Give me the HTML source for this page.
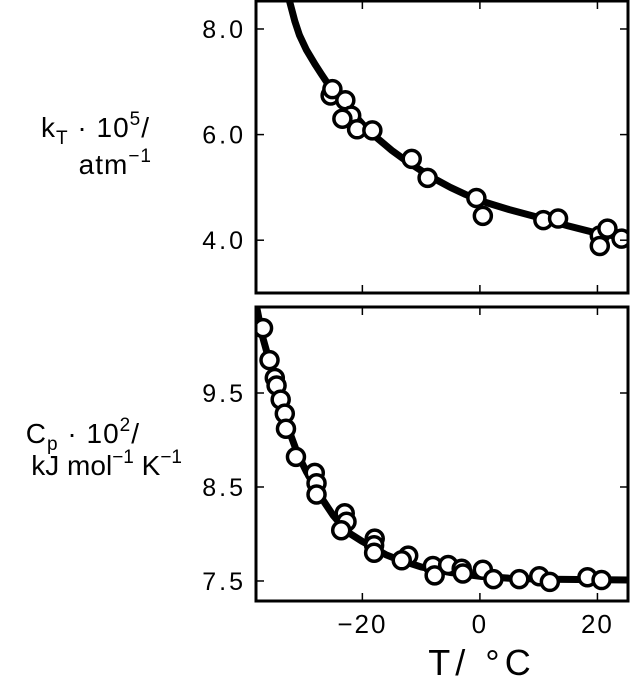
<!DOCTYPE html>
<html><head><meta charset="utf-8"><style>
html,body{margin:0;padding:0;background:#fff;width:630px;height:680px;overflow:hidden}
svg{display:block;font-family:"Liberation Sans",sans-serif}
</style></head><body>
<svg id="chart" width="630" height="680" viewBox="0 0 630 680">
<text x="150" y="137" font-size="28" letter-spacing="1" text-anchor="end">k<tspan font-size="19" dy="7">T</tspan><tspan dy="-7"> · 10</tspan><tspan font-size="19" dy="-12">5</tspan><tspan dy="12">/</tspan></text>
<text x="152" y="174" font-size="28" letter-spacing="1" text-anchor="end">atm<tspan font-size="19" dy="-12">−1</tspan></text>
<text x="140" y="443" font-size="28" letter-spacing="1" text-anchor="end">C<tspan font-size="19" dy="7">p</tspan><tspan dy="-7"> · 10</tspan><tspan font-size="19" dy="-12">2</tspan><tspan dy="12">/</tspan></text>
<text x="182" y="475" font-size="28" text-anchor="end">kJ mol<tspan font-size="19" dy="-12">−1</tspan><tspan dy="12"> K</tspan><tspan font-size="19" dy="-12">−1</tspan></text>
<text x="482" y="675" font-size="36" letter-spacing="5" text-anchor="middle">T/  °C</text>
<g id="g"></g>
</svg>
<script>
const xTicks=[-20,0,20];
const topTicks=[8.0,6.0,4.0];
const botTicks=[9.5,8.5,7.5];
const topT=[-25.4,-25.1,-22.9,-21.9,-23.4,-20.9,-18.3,-11.6,-8.9,-0.6,0.5,10.8,13.3,20.4,21.7,20.4,24.1];
const topV=[6.74,6.86,6.65,6.36,6.30,6.10,6.08,5.54,5.18,4.80,4.46,4.38,4.41,4.09,4.22,3.89,4.03];
const topCurveT=[-32.4,-31.5,-30.7,-29.5,-28,-27,-25.5,-24,-22,-20,-18,-15,-12.5,-10,-7.5,-5,-2.5,0,5,10,15,20,25.2];
const topCurveV=[8.53,8.15,7.88,7.6,7.32,7.15,6.9,6.68,6.45,6.2,5.98,5.7,5.5,5.32,5.15,5.0,4.87,4.75,4.58,4.43,4.27,4.13,4.04];
const botT=[-36.9,-35.8,-34.9,-34.6,-33.9,-33.2,-33.0,-31.3,-28.1,-27.8,-27.8,-23.0,-22.7,-23.6,-17.9,-18.0,-18.0,-12.2,-13.3,-8.0,-7.7,-5.4,-3.1,-2.9,0.5,2.3,6.7,10.1,11.9,18.3,20.7];
const botV=[10.19,9.85,9.66,9.58,9.43,9.28,9.12,8.82,8.65,8.54,8.42,8.22,8.13,8.04,7.95,7.88,7.80,7.77,7.72,7.66,7.56,7.67,7.63,7.58,7.62,7.52,7.52,7.55,7.49,7.54,7.51];
const botCurveT=[-38.1,-37,-36,-35,-34,-33,-32,-31,-29.5,-28,-26.5,-25,-23.5,-22,-20,-18,-16,-14,-12,-10,-7.5,-5,-2.5,0,5,10,25.2];
const botCurveV=[10.45,10.1,9.88,9.7,9.45,9.2,9.02,8.85,8.66,8.5,8.34,8.2,8.09,8.0,7.92,7.85,7.78,7.73,7.69,7.65,7.62,7.59,7.57,7.55,7.53,7.52,7.51];

const NS="http://www.w3.org/2000/svg";
const g=document.getElementById('g');
const X0=256,X1=628;
const x=t=>X0+(t-(-38.1))/(25.2-(-38.1))*(X1-X0);
function mk(tag,attrs){const e=document.createElementNS(NS,tag);for(const k in attrs)e.setAttribute(k,attrs[k]);g.appendChild(e);return e;}
function panel(name,top,bot,vmin,vmax,ticks,ct,cv,pt,pv,withX){
  const y=v=>bot-(v-vmin)/(vmax-vmin)*(bot-top);
  const clip=mk('clipPath',{id:'c'+name});
  const r=document.createElementNS(NS,'rect');r.setAttribute('x',X0);r.setAttribute('y',top);r.setAttribute('width',X1-X0);r.setAttribute('height',bot-top);clip.appendChild(r);
  const cg=mk('g',{'clip-path':'url(#c'+name+')'});
  const path=document.createElementNS(NS,'path');
  path.setAttribute('d',ct.map((t,i)=>(i?'L':'M')+x(t).toFixed(1)+','+y(cv[i]).toFixed(1)).join(''));
  path.setAttribute('fill','none');path.setAttribute('stroke','#000');path.setAttribute('stroke-width','7');path.setAttribute('stroke-linejoin','round');
  
  
  cg.appendChild(path);
  pt.forEach((t,i)=>{const c=document.createElementNS(NS,'circle');
    c.setAttribute('cx',x(t));c.setAttribute('cy',y(pv[i]));c.setAttribute('r','8.5');
    c.setAttribute('fill','#fff');c.setAttribute('stroke','#000');c.setAttribute('stroke-width','3.5');
    
    
    cg.appendChild(c);});
  ticks.forEach(v=>{const yy=y(v);
    const l1=mk('line',{x1:X0,x2:X0+8,y1:yy,y2:yy,stroke:'#000','stroke-width':1.5});
    
    
    const l2=mk('line',{x1:X1-8,x2:X1,y1:yy,y2:yy,stroke:'#000','stroke-width':1.5});
    
    
    const tx=mk('text',{x:246,y:yy+9,'font-size':25,'letter-spacing':3,'text-anchor':'end'});tx.textContent=v.toFixed(1);
    
    
  });
  xTicks.forEach(t=>{const xx=x(t);
    const a=mk('line',{x1:xx,x2:xx,y1:top,y2:top+8,stroke:'#000','stroke-width':1.5});
    
    
    const b=mk('line',{x1:xx,x2:xx,y1:bot-8,y2:bot,stroke:'#000','stroke-width':1.5});
    
    
    if(withX){const tx=mk('text',{x:xx,y:bot+32,'font-size':26,'letter-spacing':2,'text-anchor':'middle'});tx.textContent=(t<0?'−':'')+Math.abs(t);
      
      }
  });
  const fr=mk('rect',{x:X0,y:top,width:X1-X0,height:bot-top,fill:'none',stroke:'#000','stroke-width':3});
  
  
}
panel('top',1,293,3.0,8.53,topTicks,topCurveT,topCurveV,topT,topV,false);
panel('bottom',307,601,7.287,10.415,botTicks,botCurveT,botCurveV,botT,botV,true);
</script>
</body></html>
